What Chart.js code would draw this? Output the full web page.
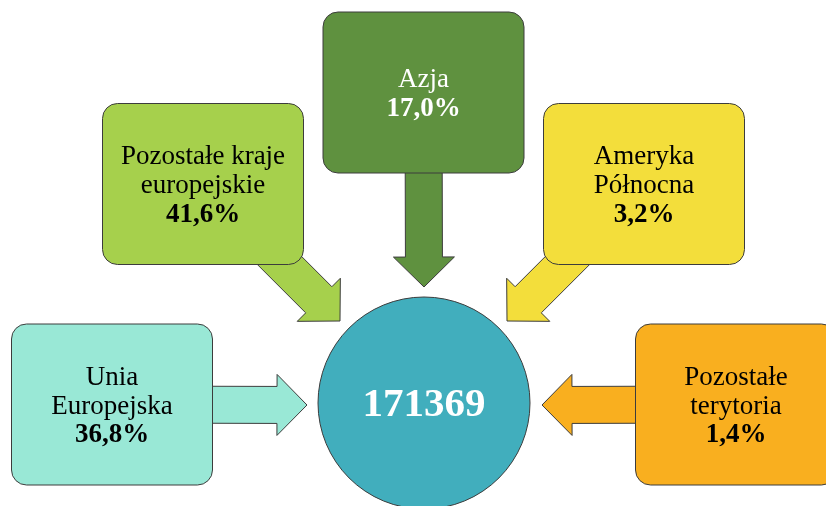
<!DOCTYPE html>
<html>
<head>
<meta charset="utf-8">
<script src="https://cdn.jsdelivr.net/npm/chart.js@4/dist/chart.umd.min.js"></script>
<style>
  body { margin: 0; background: #ffffff; }
  canvas { display: block; }
</style>
</head>
<body>
<canvas id="canvas" width="826" height="506"></canvas>
<script>
// data
const regions = ["Unia Europejska", "Pozostałe kraje europejskie", "Azja", "Ameryka Północna", "Pozostałe terytoria"];
const labelLines = [["Unia", "Europejska"], ["Pozostałe kraje", "europejskie"], ["Azja"], ["Ameryka", "Północna"], ["Pozostałe", "terytoria"]];
const shares = [36.8, 41.6, 17.0, 3.2, 1.4];
const total = 171369;

// layout (diagram units = pixels of the 826x506 picture)
const boxCenters = [{x: 112, y: 404.5}, {x: 203, y: 184}, {x: 423.5, y: 92.5}, {x: 644, y: 184}, {x: 736, y: 404.5}];
const arrowTips = [{x: 307, y: 405}, {x: 340, y: 321}, {x: 424, y: 287}, {x: 507, y: 321}, {x: 542, y: 405}];
const hubCenter = {x: 424, y: 403};
const boxColors = ["#99e8d6", "#a6d04c", "#5f913f", "#f3de3b", "#f9af1f"];
const textColors = ["#000000", "#000000", "#ffffff", "#000000", "#000000"];
const hubColor = "#41aebd";
const lineColor = "#3c3c3c";
const boxW = 201, boxH = 161, radius = 15;

function fmt(v) {
    return v.toFixed(1).replace(".", ",") + "%";
}

function roundRect(ctx, x, y, w, h, r) {
    ctx.beginPath();
    ctx.moveTo(x + r, y);
    ctx.lineTo(x + w - r, y);
    ctx.arcTo(x + w, y, x + w, y + r, r);
    ctx.lineTo(x + w, y + h - r);
    ctx.arcTo(x + w, y + h, x + w - r, y + h, r);
    ctx.lineTo(x + r, y + h);
    ctx.arcTo(x, y + h, x, y + h - r, r);
    ctx.lineTo(x, y + r);
    ctx.arcTo(x, y, x + r, y, r);
    ctx.closePath();
}

function arrow(ctx, x0, y0, x1, y1) {
    const shaft = 37, head = 61, headL = 30;
    const len = Math.hypot(x1 - x0, y1 - y0);
    const dx = (x1 - x0) / len, dy = (y1 - y0) / len;
    const nx = -dy, ny = dx;
    const bx = x1 - dx * headL, by = y1 - dy * headL;
    ctx.beginPath();
    ctx.moveTo(x0 + nx * shaft / 2, y0 + ny * shaft / 2);
    ctx.lineTo(bx + nx * shaft / 2, by + ny * shaft / 2);
    ctx.lineTo(bx + nx * head / 2, by + ny * head / 2);
    ctx.lineTo(x1, y1);
    ctx.lineTo(bx - nx * head / 2, by - ny * head / 2);
    ctx.lineTo(bx - nx * shaft / 2, by - ny * shaft / 2);
    ctx.lineTo(x0 - nx * shaft / 2, y0 - ny * shaft / 2);
    ctx.closePath();
}

const diagramPlugin = {
    id: "diagram",
    beforeDatasetsDraw(chart) {
        const ctx = chart.ctx;
        const xs = chart.scales.x, ys = chart.scales.y;
        const pts = chart.getDatasetMeta(1).data;
        ctx.save();
        ctx.lineWidth = 1;
        ctx.strokeStyle = lineColor;
        pts.forEach((p, i) => {
            arrow(ctx, p.x, p.y, xs.getPixelForValue(arrowTips[i].x), ys.getPixelForValue(arrowTips[i].y));
            ctx.fillStyle = boxColors[i];
            ctx.fill();
            ctx.stroke();
        });
        pts.forEach((p, i) => {
            roundRect(ctx, p.x - boxW / 2, p.y - boxH / 2, boxW, boxH, radius);
            ctx.fillStyle = boxColors[i];
            ctx.fill();
            ctx.stroke();
            const lines = labelLines[i].map(t => ({t: t, bold: false})).concat([{t: fmt(shares[i]), bold: true}]);
            const lh = 29;
            let y = p.y - (lines.length - 1) * lh / 2;
            ctx.fillStyle = textColors[i];
            ctx.textAlign = "center";
            ctx.textBaseline = "middle";
            lines.forEach(l => {
                ctx.font = (l.bold ? "bold " : "") + "27px 'Liberation Serif', 'Times New Roman', serif";
                ctx.fillText(l.t, p.x, y + 2);
                y += lh;
            });
        });
        ctx.restore();
    },
    afterDatasetsDraw(chart) {
        const ctx = chart.ctx;
        const c = chart.getDatasetMeta(0).data[0];
        ctx.save();
        ctx.fillStyle = "#ffffff";
        ctx.textAlign = "center";
        ctx.textBaseline = "middle";
        ctx.font = "bold 41px 'Liberation Serif', 'Times New Roman', serif";
        ctx.fillText(String(total), c.x, c.y + 2);
        ctx.restore();
    }
};

const chart = new Chart(document.getElementById("canvas").getContext("2d"), {
    type: "bubble",
    data: {
        datasets: [
            {
                label: "Ogółem",
                data: [{x: hubCenter.x, y: hubCenter.y, r: 106}],
                backgroundColor: hubColor,
                borderColor: lineColor,
                borderWidth: 1,
                clip: false,
            },
            {
                type: "scatter",
                label: "Regiony",
                data: boxCenters.map((b, i) => ({x: b.x, y: b.y, region: regions[i], share: shares[i]})),
                pointRadius: 0,
            },
        ],
    },
    options: {
        responsive: false,
        animation: false,
        events: [],
        layout: { padding: 0, autoPadding: false },
        plugins: {
            legend: { display: false },
            tooltip: { enabled: false },
        },
        scales: {
            x: { type: "linear", min: 0, max: 826, display: false },
            y: { type: "linear", min: 0, max: 506, reverse: true, display: false },
        },
    },
    plugins: [diagramPlugin],
});
</script>
</body>
</html>
